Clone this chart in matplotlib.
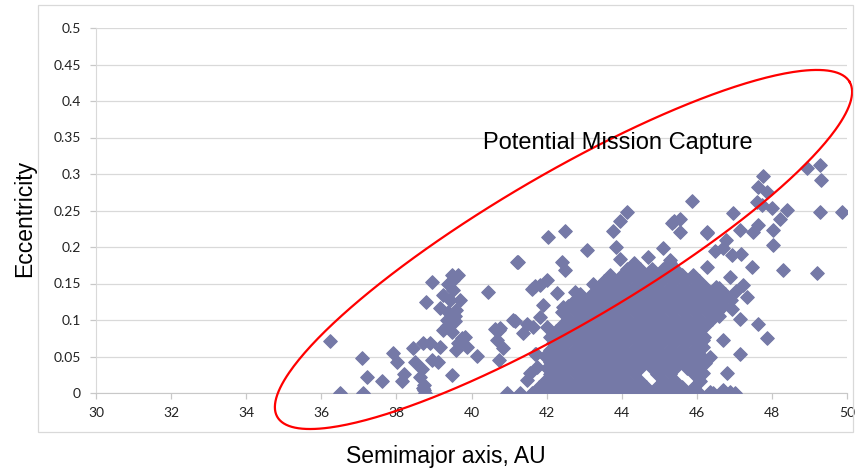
import numpy as np
import matplotlib
matplotlib.use("Agg")
import matplotlib.pyplot as plt
from matplotlib.patches import Rectangle

# scattered objects (semimajor axis AU, eccentricity)
sparse_a = [36.23, 37.08, 37.23, 37.61, 36.5, 37.1, 37.92, 38.02, 38.2, 38.14, 38.44, 38.5,
            38.72, 38.89, 39.16, 38.67, 38.94, 39.12, 38.63, 38.73, 38.74, 38.75, 39.49,
            40.14, 40.63, 40.45, 38.94, 38.8,
            39.47, 39.65, 39.38, 39.51, 39.25, 39.43, 39.69, 39.16, 39.38, 39.6, 39.34, 39.56,
            39.25, 39.47, 39.74, 39.6, 39.87, 39.83, 39.5, 39.55, 39.35, 39.65,
            40.72, 40.67, 40.85, 40.72, 38.72,
            41.2, 41.16, 41.47, 41.64, 41.38, 41.73, 42.0, 42.18, 41.6, 41.82, 42.0, 42.27,
            41.47, 41.56, 40.95, 41.28, 41.11, 40.76, 41.82, 41.69, 42.76, 43.24, 42.45,
            42.27, 41.69, 42.14, 41.9, 41.75,
            44.13, 43.95, 43.76, 45.35, 42.49, 42.05, 43.07, 41.25, 42.4, 42.49, 43.86, 43.95,
            44.71, 45.11, 45.29, 44.31, 44.49, 45.55, 45.86, 46.26, 45.38, 45.55,
            47.77, 47.64, 47.86, 47.59, 47.73, 47.99, 48.39, 48.21, 49.28, 49.86, 46.97, 47.64,
            47.5, 48.04, 47.15, 46.26, 46.79, 48.04, 47.19, 46.48, 46.93, 46.71, 47.46, 48.3,
            49.19, 46.26, 46.88, 47.24, 47.33, 46.62, 47.15, 47.64, 47.86, 46.69, 47.15, 46.81,
            46.71, 46.88, 49.28, 48.93, 49.32,
            46.17, 46.16, 46.35, 46.22, 46.17, 46.35, 46.95, 47.05, 46.5, 46.6]
sparse_e = [0.071, 0.048, 0.022, 0.016, 0.0, 0.0, 0.055, 0.043, 0.026, 0.017, 0.062, 0.043,
            0.068, 0.069, 0.063, 0.033, 0.045, 0.043, 0.022, 0.004, 0.011, 0.0, 0.025,
            0.051, 0.087, 0.139, 0.152, 0.125,
            0.162, 0.162, 0.150, 0.141, 0.134, 0.127, 0.127, 0.116, 0.111, 0.114, 0.1, 0.098,
            0.086, 0.084, 0.075, 0.059, 0.063, 0.077, 0.155, 0.105, 0.092, 0.068,
            0.086, 0.073, 0.061, 0.045, 0.0065,
            0.18, 0.098, 0.095, 0.091, 0.082, 0.054, 0.091, 0.068, 0.143, 0.148, 0.155, 0.137,
            0.018, 0.027, 0.0, 0.0, 0.1, 0.089, 0.104, 0.146, 0.139, 0.15, 0.118,
            0.077, 0.054, 0.018, 0.12, 0.036,
            0.248, 0.235, 0.222, 0.233, 0.222, 0.214, 0.196, 0.18, 0.18, 0.168, 0.2, 0.184,
            0.186, 0.198, 0.182, 0.175, 0.159, 0.239, 0.263, 0.219, 0.235, 0.221,
            0.297, 0.282, 0.276, 0.262, 0.258, 0.253, 0.251, 0.239, 0.248, 0.248, 0.246, 0.23,
            0.221, 0.223, 0.223, 0.221, 0.21, 0.203, 0.191, 0.194, 0.189, 0.198, 0.173, 0.168,
            0.164, 0.173, 0.159, 0.148, 0.132, 0.123, 0.102, 0.095, 0.075, 0.0725, 0.054, 0.028,
            0.004, 0.002, 0.312, 0.308, 0.292,
            0.0725, 0.063, 0.05, 0.041, 0.027, 0.002, 0.115, 0.14, 0.145, 0.105]

# dense classical-belt core, one list of semimajor axes per eccentricity row
core_e = [0.0, 0.0085, 0.017, 0.0255, 0.034, 0.0425, 0.051, 0.0595, 0.068, 0.0765, 0.085,
          0.0935, 0.102, 0.1105, 0.119, 0.1275, 0.136, 0.1445, 0.153, 0.1615, 0.17, 0.178]
core_a = [
    [41.62, 41.95, 42.25, 42.58, 42.9, 43.2, 43.52, 43.85, 44.15, 44.48, 44.8, 45.1, 45.42, 45.75, 46.05, 46.42, 46.7, 47.02],
    [41.8, 42.1, 42.42, 42.75, 43.05, 43.36, 43.68, 44.0, 44.33, 44.64, 44.95, 45.28, 45.6, 45.92],
    [41.95, 42.25, 42.58, 42.9, 43.2, 43.52, 43.85, 44.15, 44.48, 45.1, 45.42, 46.08],
    [42.1, 42.42, 42.75, 43.05, 43.36, 43.68, 44.0, 44.33, 44.95, 45.28, 45.92],
    [42.0, 42.25, 42.58, 42.9, 43.2, 43.52, 43.85, 44.15, 44.48, 44.8, 45.1, 45.42, 45.75, 46.05],
    [42.1, 42.42, 42.75, 43.05, 43.36, 43.68, 44.0, 44.33, 44.64, 44.95, 45.28, 45.6, 45.92],
    [41.95, 42.25, 42.58, 42.9, 43.2, 43.52, 43.85, 44.15, 44.48, 44.8, 45.1, 45.42, 45.75, 46.1],
    [42.1, 42.42, 42.75, 43.05, 43.36, 43.68, 44.0, 44.33, 44.64, 44.95, 45.28, 45.6, 45.92],
    [42.25, 42.58, 42.9, 43.2, 43.52, 43.85, 44.15, 44.48, 44.8, 45.1, 45.42, 45.75, 46.05],
    [42.1, 42.42, 42.75, 43.05, 43.36, 43.68, 44.0, 44.33, 44.64, 44.95, 45.28, 45.6, 45.92, 46.2],
    [42.25, 42.58, 42.9, 43.2, 43.52, 43.85, 44.15, 44.48, 44.8, 45.1, 45.42, 45.75, 46.05],
    [42.42, 42.75, 43.05, 43.36, 43.68, 44.0, 44.33, 44.64, 44.95, 45.28, 45.6, 45.92, 46.25],
    [42.58, 42.9, 43.2, 43.52, 43.85, 44.15, 44.48, 44.8, 45.1, 45.42, 45.75, 46.05, 46.4],
    [42.42, 42.75, 43.05, 43.36, 43.68, 44.0, 44.33, 44.64, 44.95, 45.28, 45.6, 45.92, 46.25, 46.55],
    [42.58, 42.9, 43.2, 43.52, 43.85, 44.15, 44.48, 44.8, 45.1, 45.42, 45.75, 46.05, 46.4, 46.7],
    [42.75, 43.05, 43.36, 43.68, 44.0, 44.33, 44.64, 44.95, 45.28, 45.6, 45.92, 46.25, 46.55, 46.9],
    [42.9, 43.2, 43.52, 43.85, 44.15, 44.48, 44.8, 45.1, 45.42, 45.75, 46.05, 46.4, 46.75],
    [43.36, 43.68, 44.0, 44.33, 44.64, 44.95, 45.28, 45.6, 45.92, 46.25, 46.6],
    [43.52, 43.85, 44.15, 44.48, 44.8, 45.1, 45.42, 45.75, 46.05],
    [43.68, 44.0, 44.33, 44.64, 44.95, 45.28, 45.6, 45.9],
    [44.15, 44.48, 44.8, 45.1, 45.42],
    [44.33, 45.28],
]

x_ticks = [30, 32, 34, 36, 38, 40, 42, 44, 46, 48, 50]
y_ticks = [0, 0.05, 0.1, 0.15, 0.2, 0.25, 0.3, 0.35, 0.4, 0.45, 0.5]
y_ticklabels = ['0', '0.05', '0.1', '0.15', '0.2', '0.25', '0.3', '0.35', '0.4', '0.45', '0.5']

# ellipse in data units: centre and the two half-axis vectors
ell_center = (42.45, 0.1966)
ell_u = (7.62, 0.2295)
ell_v = (-1.007, 0.0884)

a_all = list(sparse_a)
e_all = list(sparse_e)
for e, row in zip(core_e, core_a):
    a_all += row
    e_all += [e] * len(row)

plt.rcParams['font.family'] = ['Liberation Sans', 'DejaVu Sans']

fig = plt.figure(figsize=(8.59, 4.74), dpi=100)
ax = fig.add_axes([96 / 859, 81 / 474, 751 / 859, 365 / 474])

ax.scatter(a_all, e_all, marker='D', s=48, color='#7579a7', edgecolors='#7579a7',
           linewidths=0.8, zorder=3)

t = np.linspace(0, 2 * np.pi, 400)
ex = ell_center[0] + ell_u[0] * np.cos(t) + ell_v[0] * np.sin(t)
ey = ell_center[1] + ell_u[1] * np.cos(t) + ell_v[1] * np.sin(t)
ax.plot(ex, ey, color='#ff0000', lw=1.6, clip_on=False, zorder=4)

ax.text(40.31, 0.3425, 'Potential Mission Capture', fontsize=17, va='center', ha='left', zorder=5)

ax.set_xlim(30, 50)
ax.set_ylim(0, 0.5)
ax.set_xticks(x_ticks)
ax.set_yticks(y_ticks)
ax.set_yticklabels(y_ticklabels)
ax.yaxis.grid(True, color='#d9d9d9', lw=0.9)
ax.set_axisbelow(True)
for s in ['top', 'right']:
    ax.spines[s].set_visible(False)
ax.spines['left'].set_color('#d9d9d9')
ax.spines['bottom'].set_color('#c8c8c8')
ax.tick_params(axis='both', colors='#c8c8c8', length=4, width=0.9, labelcolor='#222222')
ax.tick_params(axis='x', pad=6)
ax.tick_params(axis='y', pad=7)
for lab in ax.get_xticklabels() + ax.get_yticklabels():
    lab.set_family(['Lato', 'DejaVu Sans'])
    lab.set_fontsize(10)

fig.text(445.5 / 859, 1 - 457 / 474, 'Semimajor axis, AU', fontsize=16.5, ha='center', va='center')
fig.text(25 / 859, 1 - 218.5 / 474, 'Eccentricity', fontsize=16.5, ha='center', va='center', rotation=90)

fig.patches.append(Rectangle((38 / 859, 42 / 474), 815 / 859, 427 / 474, transform=fig.transFigure,
                             fill=False, edgecolor='#d9d9d9', lw=0.9))

fig.savefig('out.png', dpi=100)
